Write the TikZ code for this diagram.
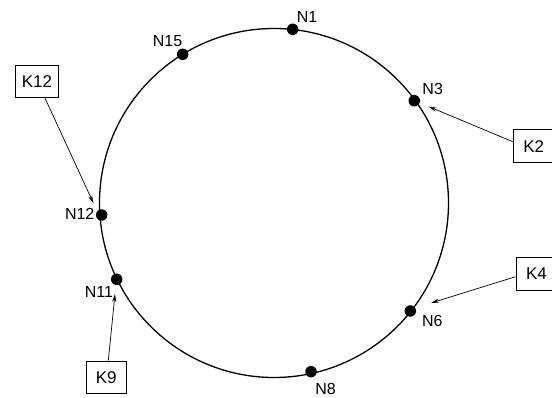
\documentclass[tikz,border=0pt]{standalone}
\usepackage{fontspec}
\setmainfont{Liberation Sans}
\usetikzlibrary{arrows.meta,calc}
\tikzset{
  ring/.style={line width=1.3pt},
  peer/.style={circle,fill=black,inner sep=0pt,minimum size=11.5pt},
  plabel/.style={inner sep=0pt,font=\fontsize{16}{18}\selectfont},
  keybox/.style={draw,line width=0.8pt,inner sep=0pt,minimum width=41pt,minimum height=33pt,font=\fontsize{17}{19}\selectfont},
  keyarrow/.style={line width=0.7pt,-{Stealth[length=8pt,width=4pt]}}
}
\begin{document}
\begin{tikzpicture}[x=1pt,y=-1pt]
\useasboundingbox (0,0) rectangle (552,398);
\coordinate (O) at (274,203);
\draw[ring] (O) circle (174.5pt);
% peers
\node[peer] (N1) at (292.7,29.3) {};
\node[peer] (N3) at (414.3,100.7) {};
\node[peer] (N15) at (182.7,54.3) {};
\node[peer] (N12) at (101.7,215) {};
\node[peer] (N11) at (116.7,279.3) {};
\node[peer] (N6) at (410.3,311) {};
\node[peer] (N8) at (311,371.7) {};
% labels
\node[plabel] (L1) at (307,17) {N1};
\node[plabel] (L3) at (432.7,89) {N3};
\node[plabel] (L15) at (167.5,41) {N15};
\node[plabel] (L12) at (79.7,214.3) {N12};
\node[plabel] (L11) at (99,291.7) {N11};
\node[plabel] (L6) at (432.3,320.5) {N6};
\node[plabel] (L8) at (325.5,388.8) {N8};
% key boxes
\node[keybox,minimum width=42.7pt,minimum height=32pt] (K12) at (37,81.7) {K12};
\node[keybox] (K2) at (533.7,146.2) {K2};
\node[keybox] (K4) at (536.5,274) {K4};
\node[keybox,minimum width=39.3pt,minimum height=32.3pt] (K9) at (106.3,377.2) {K9};
% arrow tips
\coordinate (t12) at (93.5,203.3);
\coordinate (t2) at (428.5,106.5);
\coordinate (t4) at (431,303);
\coordinate (t9) at (115,294);
\draw[keyarrow] ($(K12.south)+(8,0)$) -- (t12);
\draw[keyarrow] ($(K2.west)+(0,-4.5)$) -- (t2);
\draw[keyarrow] ($(K4.west)+(0,2.7)$) -- (t4);
\draw[keyarrow] ($(K9.north)+(2,0)$) -- (t9);
\end{tikzpicture}
\end{document}
